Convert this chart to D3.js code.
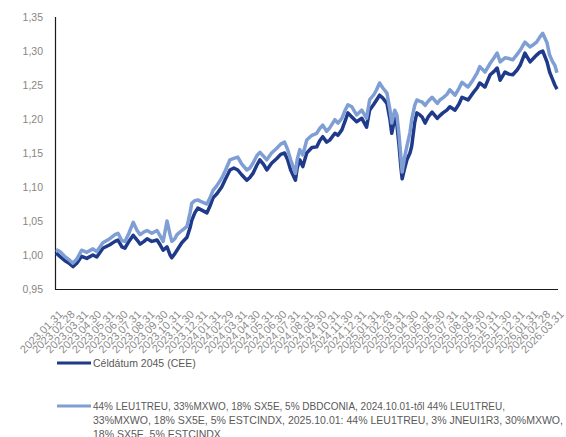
<!DOCTYPE html>
<html><head><meta charset="utf-8">
<script src="https://cdn.jsdelivr.net/npm/d3@7"></script>
<style>html,body{margin:0;padding:0;background:#fff;}svg{display:block;}</style>
</head><body>
<svg id="chart" width="566" height="437"></svg>
<script>
const seriesNames = ["Céldátum 2045 (CEE)",
  ["44% LEU1TREU, 33%MXWO, 18% SX5E, 5% DBDCONIA, 2024.10.01-től 44% LEU1TREU,",
   "33%MXWO, 18% SX5E, 5% ESTCINDX, 2025.10.01: 44% LEU1TREU, 3% JNEUI1R3, 30%MXWO,",
   "18% SX5E, 5% ESTCINDX"]];

const dates = ["2023-01-31","2023-02-09","2023-02-20","2023-03-04","2023-03-11","2023-03-20","2023-03-31","2023-04-12","2023-04-26","2023-05-05",
"2023-05-19","2023-06-04","2023-06-16","2023-06-23","2023-07-02","2023-07-09","2023-07-18","2023-07-28","2023-08-06","2023-08-13",
"2023-08-22","2023-08-29","2023-09-09","2023-09-21","2023-09-28","2023-10-05","2023-10-14","2023-10-21","2023-10-25","2023-11-01",
"2023-11-06","2023-11-17","2023-11-29","2023-12-06","2023-12-10","2023-12-17","2023-12-24","2024-01-02","2024-01-14","2024-01-21",
"2024-01-28","2024-02-06","2024-02-17","2024-02-26","2024-03-07","2024-03-16","2024-03-25","2024-04-03","2024-04-15","2024-04-22",
"2024-04-29","2024-05-08","2024-05-15","2024-05-24","2024-05-31","2024-06-11","2024-06-23","2024-07-02","2024-07-11","2024-07-18",
"2024-07-25","2024-08-05","2024-08-09","2024-08-15","2024-08-22","2024-08-31","2024-09-12","2024-09-23","2024-09-30","2024-10-07",
"2024-10-16","2024-10-23","2024-11-04","2024-11-11","2024-11-20","2024-11-27","2024-12-04","2024-12-13","2024-12-24","2025-01-05",
"2025-01-16","2025-01-23","2025-02-02","2025-02-08","2025-02-15","2025-02-22","2025-03-04","2025-03-11","2025-03-15","2025-03-22",
"2025-03-27","2025-04-01","2025-04-05","2025-04-08","2025-04-14","2025-04-19","2025-04-26","2025-04-30","2025-05-07","2025-05-12",
"2025-05-19","2025-05-24","2025-05-31","2025-06-07","2025-06-16","2025-06-28","2025-07-04","2025-07-11","2025-07-20","2025-07-27",
"2025-08-08","2025-08-17","2025-08-24","2025-09-07","2025-09-18","2025-09-28","2025-10-04","2025-10-16","2025-10-28","2025-11-06",
"2025-11-13","2025-11-20","2025-12-01","2025-12-10","2025-12-19","2025-12-29","2026-01-05","2026-01-16","2026-01-28","2026-02-06",
"2026-02-12","2026-02-19","2026-02-26","2026-03-08","2026-03-14","2026-03-21","2026-03-26","2026-03-31"];

const fundValues = [1.003,0.998,0.992,0.987,0.983,0.988,0.998,0.995,1.000,0.997,
1.010,1.015,1.020,1.022,1.012,1.010,1.020,1.029,1.022,1.016,
1.020,1.024,1.020,1.022,1.015,1.007,1.012,1.000,0.996,1.002,
1.007,1.018,1.026,1.040,1.051,1.062,1.069,1.066,1.062,1.072,
1.084,1.090,1.100,1.112,1.125,1.128,1.125,1.118,1.110,1.114,
1.120,1.132,1.140,1.133,1.125,1.135,1.142,1.148,1.150,1.140,
1.125,1.110,1.128,1.140,1.130,1.150,1.158,1.159,1.168,1.174,
1.166,1.169,1.179,1.176,1.184,1.196,1.209,1.203,1.196,1.201,
1.188,1.213,1.222,1.228,1.235,1.231,1.223,1.199,1.179,1.201,
1.191,1.160,1.130,1.112,1.128,1.140,1.150,1.160,1.195,1.209,
1.206,1.203,1.194,1.203,1.210,1.201,1.205,1.209,1.213,1.218,
1.213,1.222,1.232,1.228,1.238,1.246,1.253,1.247,1.265,1.270,
1.275,1.257,1.269,1.266,1.265,1.272,1.279,1.297,1.284,1.290,
1.294,1.298,1.300,1.284,1.269,1.258,1.250,1.244];

const benchValues = [1.008,1.005,0.998,0.992,0.988,0.994,1.007,1.004,1.009,1.005,
1.018,1.024,1.030,1.032,1.021,1.020,1.032,1.048,1.036,1.030,
1.034,1.036,1.032,1.036,1.028,1.020,1.050,1.030,1.020,1.024,
1.030,1.036,1.042,1.062,1.076,1.080,1.081,1.078,1.075,1.084,
1.095,1.102,1.113,1.125,1.140,1.142,1.144,1.134,1.125,1.128,
1.135,1.146,1.151,1.145,1.140,1.150,1.157,1.163,1.166,1.155,
1.140,1.120,1.140,1.155,1.147,1.169,1.176,1.179,1.186,1.191,
1.182,1.187,1.199,1.194,1.201,1.212,1.221,1.218,1.206,1.213,
1.201,1.228,1.236,1.243,1.253,1.246,1.238,1.213,1.194,1.213,
1.206,1.175,1.145,1.122,1.145,1.160,1.180,1.199,1.220,1.228,
1.226,1.225,1.220,1.226,1.232,1.223,1.228,1.231,1.236,1.243,
1.235,1.245,1.254,1.247,1.257,1.268,1.277,1.269,1.282,1.290,
1.297,1.284,1.290,1.289,1.287,1.295,1.301,1.313,1.306,1.310,
1.313,1.320,1.326,1.312,1.294,1.284,1.279,1.268];

const tickLabels = ["2023.01.31","2023.02.28","2023.03.31","2023.04.30","2023.05.31","2023.06.30","2023.07.31","2023.08.31","2023.09.30","2023.10.31",
"2023.11.30","2023.12.31","2024.01.31","2024.02.29","2024.03.31","2024.04.30","2024.05.31","2024.06.30","2024.07.31","2024.08.31",
"2024.09.30","2024.10.31","2024.11.30","2024.12.31","2025.01.31","2025.02.28","2025.03.31","2025.04.30","2025.05.31","2025.06.30",
"2025.07.31","2025.08.31","2025.09.30","2025.10.31","2025.11.30","2025.12.31","2026.01.31","2026.02.28","2026.03.31"];

const yTicks = [0.95,1.00,1.05,1.10,1.15,1.20,1.25,1.30,1.35];

const parse = d3.timeParse("%Y-%m-%d");
const parseTick = d3.timeParse("%Y.%m.%d");
const svg = d3.select("#chart");

const x = d3.scaleTime()
  .domain([parseTick(tickLabels[0]), parseTick(tickLabels[tickLabels.length-1])])
  .range([56, 557]);
const y = d3.scaleLinear().domain([0.95, 1.35]).range([289, 17]);

const fmt = v => d3.format(".2f")(v).replace(".", ",");

// Y axis labels
const yAxis = d3.axisLeft(y).tickValues(yTicks).tickFormat(fmt).tickSize(0).tickPadding(12);
const gy = svg.append("g").attr("transform", "translate(55,0)").call(yAxis);
gy.select(".domain").remove();
gy.selectAll("text").attr("font-family", "Liberation Sans, Arial, sans-serif")
  .attr("font-size", 10.5).attr("fill", "#8a8580");

// X axis (labels only)
const xAxis = d3.axisBottom(x).tickValues(tickLabels.map(parseTick))
  .tickFormat(d3.timeFormat("%Y.%m.%d")).tickSize(0);
const gx = svg.append("g").attr("transform", "translate(0,289)").call(xAxis);
gx.select(".domain").remove();
gx.selectAll("text")
  .attr("font-family", "Liberation Sans, Arial, sans-serif")
  .attr("font-size", 11).attr("fill", "#8c8c8c")
  .attr("text-anchor", "end")
  .attr("dy", 0).attr("y", 0)
  .attr("transform", "translate(7,26) rotate(-45)");

// Axis lines
svg.append("line").attr("x1", 55.5).attr("x2", 55.5).attr("y1", 17).attr("y2", 289.5)
  .attr("stroke", "#1a1a1a").attr("stroke-width", 1.2);
svg.append("line").attr("x1", 55).attr("x2", 558).attr("y1", 289.5).attr("y2", 289.5)
  .attr("stroke", "#1a1a1a").attr("stroke-width", 1.2);

const dark = "#1f3a8a", light = "#7f9fd4";
const line = d3.line().x(d => x(d[0])).y(d => y(d[1]));
const fundData = dates.map((d, i) => [parse(d), fundValues[i]]);
const benchData = dates.map((d, i) => [parse(d), benchValues[i]]);

svg.append("path").datum(fundData).attr("d", line).attr("fill", "none")
  .attr("stroke", dark).attr("stroke-width", 3.5).attr("stroke-linejoin", "round");
svg.append("path").datum(benchData).attr("d", line).attr("fill", "none")
  .attr("stroke", light).attr("stroke-width", 3.5).attr("stroke-linejoin", "round");

// Legend
const lg = svg.append("g").attr("font-family", "Liberation Sans, Arial, sans-serif")
  .attr("font-size", 10.5).attr("fill", "#595959");
lg.append("line").attr("x1", 57).attr("x2", 91).attr("y1", 363).attr("y2", 363)
  .attr("stroke", dark).attr("stroke-width", 3.2);
lg.append("text").attr("x", 93).attr("y", 367).text(seriesNames[0]);
lg.append("line").attr("x1", 57).attr("x2", 91).attr("y1", 406).attr("y2", 406)
  .attr("stroke", light).attr("stroke-width", 3.2);
const widths = [412, 470, null];
seriesNames[1].forEach((t, i) => {
  const tx = lg.append("text").attr("x", 93).attr("y", 410 + i * 14.2).text(t);
  if (widths[i]) tx.attr("textLength", widths[i]).attr("lengthAdjust", "spacingAndGlyphs");
});
</script>
</body></html>
